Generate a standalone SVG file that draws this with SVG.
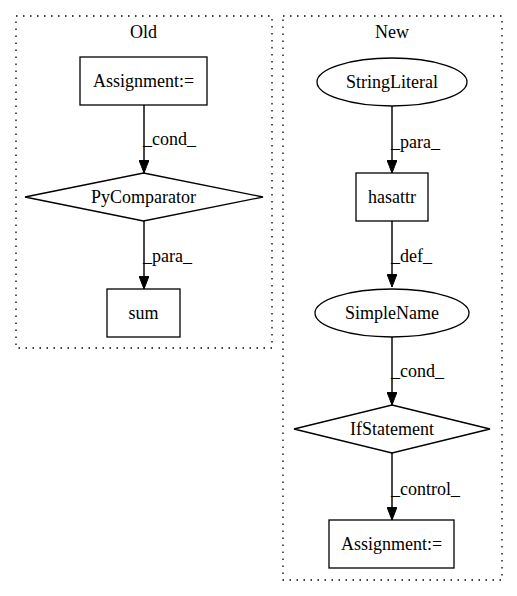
<svg xmlns="http://www.w3.org/2000/svg" width="517" height="596" viewBox="0 0 517 596">
<style>
text{font-family:"Liberation Serif","Times New Roman",serif;font-size:18px;fill:#000}
.c{text-anchor:middle}
.n{fill:none;stroke:#000;stroke-width:1.3}
.cl{fill:none;stroke:#000;stroke-width:1.3;stroke-dasharray:1.5,5.5}
.e{fill:none;stroke:#333;stroke-width:1.8}
</style>
<defs>
<marker id="ah" viewBox="0 0 13 10" refX="13" refY="5" markerWidth="13" markerHeight="10" markerUnits="userSpaceOnUse" orient="auto">
<path d="M0,0 L13,5 L0,10 Z" fill="#000" stroke="#000" stroke-width="1"/>
</marker>
</defs>
<rect width="517" height="596" fill="#fff"/>
<g id="cluster_old">
<rect class="cl" x="16" y="16" width="256" height="332"/>
<text class="c" x="143.5" y="38">Old</text>
</g>
<g id="cluster_new">
<rect class="cl" x="283" y="16" width="219" height="564"/>
<text class="c" x="392" y="38">New</text>
</g>
<g id="connectors">
<path class="e" d="M144,105 L144,173" marker-end="url(#ah)"/>
<text x="143" y="145">_cond_</text>
<path class="e" d="M144,221 L144,289" marker-end="url(#ah)"/>
<text x="143" y="262">_para_</text>
<path class="e" d="M392,106 L392,173" marker-end="url(#ah)"/>
<text x="391" y="148">_para_</text>
<path class="e" d="M392,221 L392,287" marker-end="url(#ah)"/>
<text x="391" y="262">_def_</text>
<path class="e" d="M392,337 L392,405" marker-end="url(#ah)"/>
<text x="391" y="377">_cond_</text>
<path class="e" d="M392,453 L392,520" marker-end="url(#ah)"/>
<text x="391" y="495">_control_</text>
</g>
<g id="old_assignment">
<rect class="n" x="80" y="57" width="127" height="48"/>
<text class="c" x="143.5" y="87">Assignment:=</text>
</g>
<g id="pycomparator">
<polygon class="n" points="143.5,173 263,197 143.5,221 25,197"/>
<text class="c" x="143.5" y="203">PyComparator</text>
</g>
<g id="sum">
<rect class="n" x="107" y="289" width="73" height="48"/>
<text class="c" x="143.5" y="319">sum</text>
</g>
<g id="stringliteral">
<ellipse class="n" cx="392" cy="82" rx="75" ry="24"/>
<text class="c" x="392" y="88">StringLiteral</text>
</g>
<g id="hasattr">
<rect class="n" x="356" y="173" width="72" height="48"/>
<text class="c" x="392" y="203">hasattr</text>
</g>
<g id="simplename">
<ellipse class="n" cx="392" cy="313" rx="77" ry="24"/>
<text class="c" x="392" y="319">SimpleName</text>
</g>
<g id="ifstatement">
<polygon class="n" points="392,405 490,429 392,453 294,429"/>
<text class="c" x="392" y="435">IfStatement</text>
</g>
<g id="new_assignment">
<rect class="n" x="329" y="520" width="125" height="48"/>
<text class="c" x="391.5" y="550">Assignment:=</text>
</g>
</svg>
